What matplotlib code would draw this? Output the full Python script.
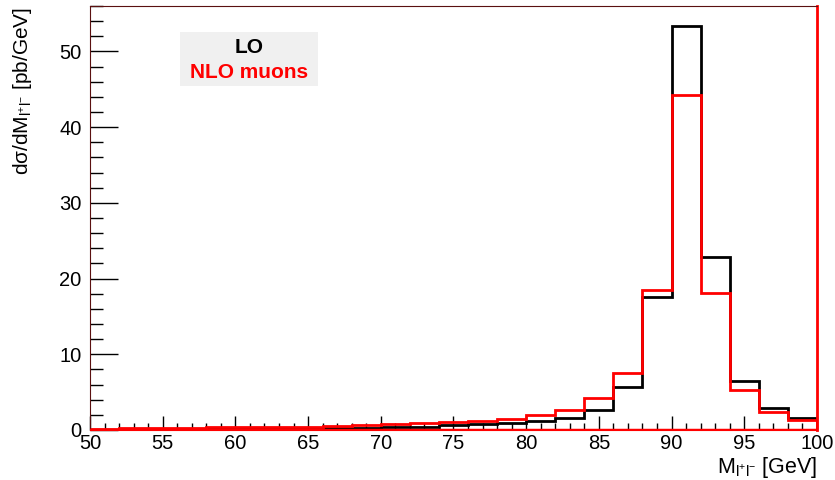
import numpy as np
import matplotlib
matplotlib.use('Agg')
import matplotlib.pyplot as plt
from matplotlib.ticker import MultipleLocator

plt.rcParams['font.family'] = ['Liberation Sans', 'DejaVu Sans']
plt.rcParams['mathtext.fontset'] = 'custom'
plt.rcParams['mathtext.rm'] = 'Liberation Sans'
plt.rcParams['mathtext.it'] = 'Liberation Sans:italic'
plt.rcParams['mathtext.default'] = 'regular'

# 2 GeV bins from 50 to 100 GeV
edges = np.arange(50, 102, 2)
centers = edges[:-1] + 1

lo = [0.05, 0.08, 0.08, 0.09, 0.10, 0.11, 0.13, 0.15, 0.20, 0.30,
      0.35, 0.45, 0.60, 0.75, 0.95, 1.15, 1.60, 2.70, 5.70, 17.6,
      53.3, 22.9, 6.50, 2.90, 1.60]
nlo = [0.15, 0.30, 0.30, 0.32, 0.34, 0.36, 0.40, 0.45, 0.55, 0.70,
       0.80, 0.95, 1.10, 1.25, 1.50, 2.00, 2.70, 4.20, 7.50, 18.5,
       44.3, 18.1, 5.30, 2.40, 1.30]

fig = plt.figure(figsize=(8.35, 4.8), dpi=100)
ax = fig.add_axes([0.1078, 0.1042, 0.8706, 0.8833])

ax.hist(centers, bins=edges, weights=lo, histtype='step', color='black', lw=2)
ax.hist(centers, bins=edges, weights=nlo, histtype='step', color='red', lw=2)
ax.axhline(0, color='red', lw=2.5, zorder=3)

ax.set_xlim(50, 100)
ax.set_ylim(0, 56)

ax.xaxis.set_major_locator(MultipleLocator(5))
ax.xaxis.set_minor_locator(MultipleLocator(1))
ax.yaxis.set_major_locator(MultipleLocator(10))
ax.yaxis.set_minor_locator(MultipleLocator(2))
ax.tick_params(axis='x', which='major', direction='in', length=10, width=1, labelsize=14.5, pad=3)
ax.tick_params(axis='x', which='minor', direction='in', length=5, width=1)
ax.tick_params(axis='y', which='major', direction='in', length=20, width=1, labelsize=14.5, pad=6)
ax.tick_params(axis='y', which='minor', direction='in', length=9, width=1)

for side in ['top', 'left']:
    ax.spines[side].set_color('#5a1010')
ax.spines['right'].set_color('red')
ax.spines['right'].set_linewidth(2)
ax.spines['bottom'].set_color('red')

ax.set_xlabel(r'M$_{l^{+}l^{-}}$ [GeV]', fontsize=15.5, loc='right', labelpad=1)
ax.set_ylabel(r'dσ/dM$_{l^{+}l^{-}}$ [pb/GeV]', fontsize=15, loc='top')
ax.yaxis.set_label_coords(-0.077, 0.998)

# legend box
ax.add_patch(plt.Rectangle((0.124, 0.811), 0.19, 0.127, transform=ax.transAxes,
                           facecolor='#f0f0f0', edgecolor='none', zorder=1))
ax.text(0.219, 0.901, 'LO', transform=ax.transAxes, ha='center', va='center',
        fontsize=15, fontweight='bold', color='black')
ax.text(0.219, 0.842, 'NLO muons', transform=ax.transAxes, ha='center', va='center',
        fontsize=15, fontweight='bold', color='red')

fig.savefig('out.png', dpi=100)
